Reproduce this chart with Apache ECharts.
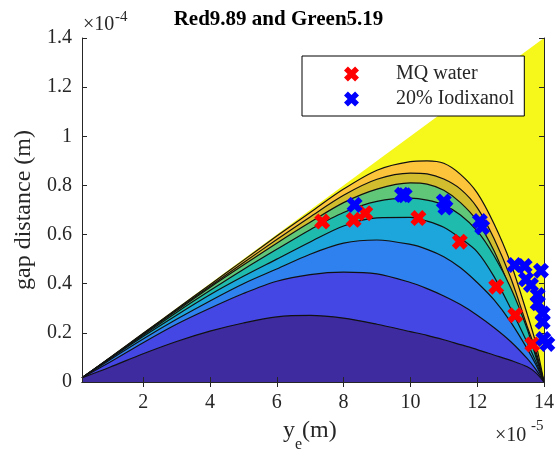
<!DOCTYPE html>
<html>
<head>
<meta charset="utf-8">
<script src="https://cdn.jsdelivr.net/npm/echarts@6/dist/echarts.min.js"></script>
<style>
  html, body { margin: 0; padding: 0; background: #fff; }
  #gapContour { width: 557px; height: 457px; }
</style>
</head>
<body>
<div id="gapContour"></div>
<script>
// x in units of 1e-5 m, y in units of 1e-4 m
const xTicks = [2, 4, 6, 8, 10, 12, 14];
const xGrid = [0.17, 1, 2, 3, 4, 5, 6, 7, 8, 9, 10, 10.5, 11, 11.5, 12, 12.5, 13, 13.5, 13.75, 14];

// contour lines, lowest level first
const level1 = [0.017, 0.06, 0.115, 0.165, 0.207, 0.24, 0.265, 0.271, 0.26, 0.235, 0.205, 0.19, 0.172, 0.152, 0.132, 0.11, 0.088, 0.062, 0.038, 0];
const level2 = [0.017, 0.08, 0.16, 0.235, 0.3, 0.36, 0.41, 0.437, 0.447, 0.44, 0.405, 0.38, 0.35, 0.315, 0.272, 0.222, 0.165, 0.095, 0.052, 0];
const level3 = [0.017, 0.09, 0.175, 0.255, 0.33, 0.4, 0.46, 0.52, 0.565, 0.578, 0.56, 0.54, 0.51, 0.465, 0.405, 0.335, 0.245, 0.135, 0.072, 0];
const level4 = [0.017, 0.094, 0.185, 0.272, 0.355, 0.43, 0.5, 0.57, 0.635, 0.668, 0.67, 0.655, 0.63, 0.585, 0.53, 0.43, 0.3, 0.16, 0.085, 0];
const level5 = [0.017, 0.096, 0.19, 0.283, 0.372, 0.458, 0.54, 0.62, 0.69, 0.735, 0.748, 0.74, 0.72, 0.68, 0.615, 0.515, 0.385, 0.215, 0.105, 0];
const level6 = [0.017, 0.097, 0.194, 0.29, 0.385, 0.476, 0.565, 0.65, 0.73, 0.785, 0.81, 0.805, 0.78, 0.73, 0.655, 0.535, 0.375, 0.195, 0.115, 0];
const level7 = [0.017, 0.098, 0.196, 0.294, 0.39, 0.485, 0.58, 0.672, 0.76, 0.825, 0.85, 0.847, 0.826, 0.785, 0.71, 0.585, 0.425, 0.225, 0.13, 0];
const level8 = [0.017, 0.099, 0.198, 0.297, 0.396, 0.495, 0.594, 0.69, 0.785, 0.862, 0.897, 0.9, 0.89, 0.845, 0.77, 0.645, 0.485, 0.275, 0.16, 0];

// edge of the domain (gap = y_e / 10)
const diagonal = [[0.17, 0.017], [14, 1.4]];

const mqWater = [[7.36, 0.653], [8.3, 0.66], [8.65, 0.687], [10.24, 0.667], [11.48, 0.571], [12.57, 0.388], [13.14, 0.272], [13.65, 0.153]];
const iodixanol = [[8.33, 0.721], [9.75, 0.762], [9.83, 0.76], [11.0, 0.735], [11.05, 0.71], [12.08, 0.655], [12.15, 0.63],
  [13.12, 0.476], [13.42, 0.472], [13.91, 0.453], [13.46, 0.418], [13.61, 0.395], [13.81, 0.354], [13.81, 0.32],
  [13.96, 0.279], [13.96, 0.245], [13.98, 0.175], [14.1, 0.155]];

const levels = [level1, level2, level3, level4, level5, level6, level7, level8];
const bandColors = ['#3d2b9f', '#4547e5', '#2f81ef', '#1da6db', '#1fbbad', '#5fc777', '#d1bd2d', '#fbc43b'];
const topColor = '#f6f71a';

const font = 'Liberation Serif';
const ink = '#262626';
const xMark = 'path://M2.6,0 L5,2.4 L7.4,0 L10,2.6 L7.6,5 L10,7.4 L7.4,10 L5,7.6 L2.6,10 L0,7.4 L2.4,5 L0,2.6 Z';

const chart = echarts.init(document.getElementById('gapContour'));

const contourSeries = levels.map((ys, i) => ({
  type: 'line',
  data: xGrid.map((x, j) => [x, ys[j]]),
  symbol: 'none',
  smooth: 0.3,
  silent: true,
  z: 10 - i,
  lineStyle: { color: '#111', width: 1.2 },
  areaStyle: { color: bandColors[i], opacity: 1 }
}));

const axisCommon = {
  axisLine: { lineStyle: { color: ink, width: 1 } },
  splitLine: { show: false },
  z: 30
};

chart.setOption({
  animation: false,
  title: {
    text: 'Red9.89 and Green5.19',
    left: 'center',
    top: 9,
    padding: 0,
    textStyle: { fontFamily: font, fontSize: 21, fontWeight: 'bold', color: '#000' }
  },
  legend: {
    data: ['MQ water', '20% Iodixanol'],
    orient: 'vertical',
    left: 302,
    top: 56,
    padding: [8, 10, 7, 42],
    itemGap: 5,
    itemWidth: 15,
    itemHeight: 15,
    icon: xMark,
    backgroundColor: '#fff',
    borderColor: '#000',
    borderWidth: 1,
    borderRadius: 0,
    z: 50,
    textStyle: { fontFamily: font, fontSize: 20, color: ink, padding: [0, 0, 0, 32] }
  },
  grid: { left: 82, right: 10, top: 38, bottom: 75 },
  xAxis: [
    Object.assign({
      type: 'value', min: 0.17, max: 14, position: 'bottom',
      axisTick: { inside: true, length: 5, customValues: xTicks, lineStyle: { color: ink } },
      axisLabel: { customValues: xTicks, fontFamily: font, fontSize: 20, color: ink, margin: 11 }
    }, axisCommon),
    Object.assign({
      type: 'value', min: 0.17, max: 14, position: 'top',
      axisTick: { inside: true, length: 5, customValues: xTicks, lineStyle: { color: ink } },
      axisLabel: { show: false }
    }, axisCommon)
  ],
  yAxis: [
    Object.assign({
      type: 'value', min: 0, max: 1.4, interval: 0.2, position: 'left',
      name: 'gap distance (m)', nameLocation: 'middle', nameGap: 40,
      nameTextStyle: { fontFamily: font, fontSize: 24, color: ink },
      axisTick: { inside: true, length: 5, lineStyle: { color: ink } },
      axisLabel: { fontFamily: font, fontSize: 20, color: ink, margin: 10 }
    }, axisCommon),
    Object.assign({
      type: 'value', min: 0, max: 1.4, interval: 0.2, position: 'right',
      axisTick: { inside: true, length: 5, lineStyle: { color: ink } },
      axisLabel: { show: false }
    }, axisCommon)
  ],
  graphic: [
    { type: 'text', left: 83, top: 15, z: 60, style: { text: '\u00d710', font: '20px "Liberation Serif"', fill: ink } },
    { type: 'text', left: 115, top: 10, z: 60, style: { text: '-4', font: '15px "Liberation Serif"', fill: ink } },
    { type: 'text', left: 495, top: 426, z: 60, style: { text: '\u00d710', font: '20px "Liberation Serif"', fill: ink } },
    { type: 'text', left: 531, top: 419, z: 60, style: { text: '-5', font: '15px "Liberation Serif"', fill: ink } },
    { type: 'text', left: 283, top: 419, z: 60, style: { text: 'y', font: '24px "Liberation Serif"', fill: ink } },
    { type: 'text', left: 295, top: 437, z: 60, style: { text: 'e', font: '16px "Liberation Serif"', fill: ink } },
    { type: 'text', left: 302, top: 419, z: 60, style: { text: '(m)', font: '24px "Liberation Serif"', fill: ink } }
  ],
  series: [
    {
      type: 'line',
      data: diagonal,
      symbol: 'none',
      silent: true,
      z: 1,
      lineStyle: { width: 0 },
      areaStyle: { color: topColor, opacity: 1 }
    }
  ].concat(contourSeries.reverse()).concat([
    {
      name: 'MQ water',
      type: 'scatter',
      data: mqWater,
      symbol: xMark,
      symbolSize: 16,
      clip: false,
      z: 40,
      itemStyle: { color: '#ff0000', opacity: 1 }
    },
    {
      name: '20% Iodixanol',
      type: 'scatter',
      data: iodixanol,
      symbol: xMark,
      symbolSize: 16,
      clip: false,
      z: 41,
      itemStyle: { color: '#0000ff', opacity: 1 }
    }
  ])
});
</script>
</body>
</html>
